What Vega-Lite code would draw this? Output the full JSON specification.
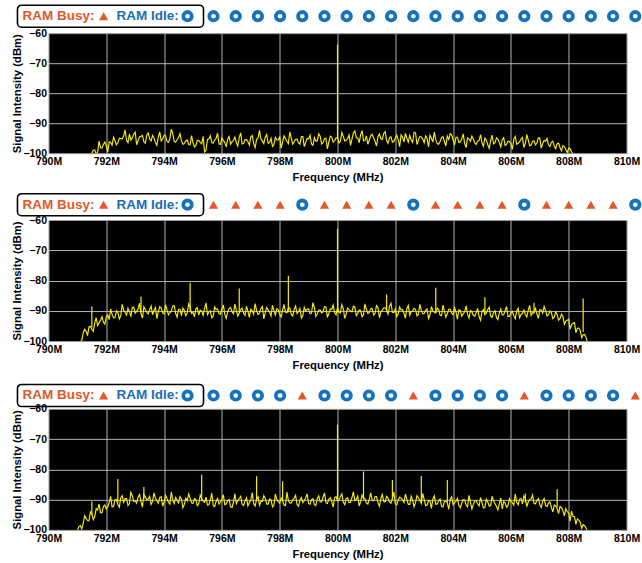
{
"$schema": "https://vega.github.io/schema/vega-lite/v6.json",
"background": "white",
"padding": {"left": 10.5, "top": 4.2, "right": 0, "bottom": 0},
"config": {
  "view": {"stroke": null},
  "font": "Liberation Sans",
  "text": {"font": "Liberation Sans"},
  "axis": {"labelFont": "Liberation Sans", "labelFontWeight": "bold", "labelFontSize": 10.5, "labelColor": "black", "titleFont": "Liberation Sans", "titleFontWeight": "bold", "titleFontSize": 11.3, "titleColor": "black", "ticks": false, "tickSize": 0, "domain": false, "gridColor": "#b4b4b4", "gridWidth": 1, "labelFlush": false, "labelOverlap": false}
},
"datasets": {
"r1": [{"slot":1,"state":"idle"},{"slot":2,"state":"idle"},{"slot":3,"state":"idle"},{"slot":4,"state":"idle"},{"slot":5,"state":"idle"},{"slot":6,"state":"idle"},{"slot":7,"state":"idle"},{"slot":8,"state":"idle"},{"slot":9,"state":"idle"},{"slot":10,"state":"idle"},{"slot":11,"state":"idle"},{"slot":12,"state":"idle"},{"slot":13,"state":"idle"},{"slot":14,"state":"idle"},{"slot":15,"state":"idle"},{"slot":16,"state":"idle"},{"slot":17,"state":"idle"},{"slot":18,"state":"idle"},{"slot":19,"state":"idle"},{"slot":20,"state":"idle"}],
"r2": [{"slot":1,"state":"busy"},{"slot":2,"state":"busy"},{"slot":3,"state":"busy"},{"slot":4,"state":"busy"},{"slot":5,"state":"idle"},{"slot":6,"state":"busy"},{"slot":7,"state":"busy"},{"slot":8,"state":"busy"},{"slot":9,"state":"busy"},{"slot":10,"state":"idle"},{"slot":11,"state":"busy"},{"slot":12,"state":"busy"},{"slot":13,"state":"busy"},{"slot":14,"state":"busy"},{"slot":15,"state":"idle"},{"slot":16,"state":"busy"},{"slot":17,"state":"busy"},{"slot":18,"state":"busy"},{"slot":19,"state":"busy"},{"slot":20,"state":"idle"}],
"r3": [{"slot":1,"state":"idle"},{"slot":2,"state":"idle"},{"slot":3,"state":"idle"},{"slot":4,"state":"idle"},{"slot":5,"state":"busy"},{"slot":6,"state":"idle"},{"slot":7,"state":"idle"},{"slot":8,"state":"idle"},{"slot":9,"state":"idle"},{"slot":10,"state":"busy"},{"slot":11,"state":"idle"},{"slot":12,"state":"idle"},{"slot":13,"state":"idle"},{"slot":14,"state":"idle"},{"slot":15,"state":"busy"},{"slot":16,"state":"idle"},{"slot":17,"state":"idle"},{"slot":18,"state":"idle"},{"slot":19,"state":"idle"},{"slot":20,"state":"busy"}],
"s1": [{"f":800.0,"v":-63.8,"base":-95.0}],
"s2": [{"f":791.5,"v":-88.6,"base":-95.5},{"f":793.2,"v":-85.3,"base":-90.5},{"f":794.9,"v":-80.8,"base":-90.5},{"f":796.6,"v":-82.6,"base":-90.5},{"f":798.3,"v":-78.4,"base":-90.5},{"f":800.0,"v":-63.0,"base":-90.5},{"f":801.7,"v":-84.6,"base":-90.5},{"f":803.4,"v":-82.4,"base":-90.5},{"f":805.1,"v":-85.5,"base":-91.0},{"f":806.8,"v":-87.3,"base":-91.0},{"f":808.5,"v":-85.9,"base":-97.0}],
"s3": [{"f":791.5,"v":-90.6,"base":-95.0},{"f":792.4,"v":-83.2,"base":-91.0},{"f":793.3,"v":-85.8,"base":-90.0},{"f":795.3,"v":-81.8,"base":-90.5},{"f":797.2,"v":-82.3,"base":-90.5},{"f":798.1,"v":-83.9,"base":-90.5},{"f":800.0,"v":-65.3,"base":-90.0},{"f":800.9,"v":-80.7,"base":-90.0},{"f":801.9,"v":-83.5,"base":-90.0},{"f":802.9,"v":-82.2,"base":-90.5},{"f":803.8,"v":-83.5,"base":-91.0},{"f":806.5,"v":-88.0,"base":-91.0},{"f":807.6,"v":-86.6,"base":-92.5}],
"t1": [{"f":791.5,"v":-100.0},{"f":791.6,"v":-98.9},{"f":791.7,"v":-99.6},{"f":791.8,"v":-98.2},{"f":791.9,"v":-97.1},{"f":792.0,"v":-97.6},{"f":792.1,"v":-96.2},{"f":792.2,"v":-97.3},{"f":792.3,"v":-95.8},{"f":792.4,"v":-96.6},{"f":792.5,"v":-95.1},{"f":792.6,"v":-94.2},{"f":792.7,"v":-95.6},{"f":792.8,"v":-93.6},{"f":792.9,"v":-94.9},{"f":793.0,"v":-93.0},{"f":793.1,"v":-95.8},{"f":793.2,"v":-94.4},{"f":793.3,"v":-96.2},{"f":793.4,"v":-93.9},{"f":793.5,"v":-95.3},{"f":793.6,"v":-94.1},{"f":793.7,"v":-96.4},{"f":793.8,"v":-94.6},{"f":793.9,"v":-95.9},{"f":794.0,"v":-94.0},{"f":794.1,"v":-96.1},{"f":794.2,"v":-95.2},{"f":794.3,"v":-93.5},{"f":794.4,"v":-96.3},{"f":794.5,"v":-94.8},{"f":794.6,"v":-95.9},{"f":794.7,"v":-96.8},{"f":794.8,"v":-95.6},{"f":794.9,"v":-97.2},{"f":795.0,"v":-96.5},{"f":795.1,"v":-97.4},{"f":795.2,"v":-95.8},{"f":795.3,"v":-96.9},{"f":795.4,"v":-99.6},{"f":795.5,"v":-95.4},{"f":795.6,"v":-94.2},{"f":795.7,"v":-96.6},{"f":795.8,"v":-95.1},{"f":795.9,"v":-96.9},{"f":796.0,"v":-94.9},{"f":796.1,"v":-96.4},{"f":796.2,"v":-95.3},{"f":796.3,"v":-97.0},{"f":796.4,"v":-95.7},{"f":796.5,"v":-96.5},{"f":796.6,"v":-94.8},{"f":796.7,"v":-96.9},{"f":796.8,"v":-95.5},{"f":796.9,"v":-96.2},{"f":797.0,"v":-94.6},{"f":797.1,"v":-96.8},{"f":797.2,"v":-95.4},{"f":797.3,"v":-92.4},{"f":797.4,"v":-95.9},{"f":797.5,"v":-94.7},{"f":797.6,"v":-96.7},{"f":797.7,"v":-95.0},{"f":797.8,"v":-97.1},{"f":797.9,"v":-95.6},{"f":798.0,"v":-94.4},{"f":798.1,"v":-96.3},{"f":798.2,"v":-95.1},{"f":798.3,"v":-96.8},{"f":798.4,"v":-94.9},{"f":798.5,"v":-96.1},{"f":798.6,"v":-95.3},{"f":798.7,"v":-97.0},{"f":798.8,"v":-94.5},{"f":798.9,"v":-96.4},{"f":799.0,"v":-95.2},{"f":799.1,"v":-96.9},{"f":799.2,"v":-94.8},{"f":799.3,"v":-95.9},{"f":799.4,"v":-94.3},{"f":799.5,"v":-96.5},{"f":799.6,"v":-95.0},{"f":799.7,"v":-96.2},{"f":799.8,"v":-94.6},{"f":799.9,"v":-95.8},{"f":800.0,"v":-94.9},{"f":800.1,"v":-96.0},{"f":800.2,"v":-94.4},{"f":800.3,"v":-95.7},{"f":800.4,"v":-93.9},{"f":800.5,"v":-95.3},{"f":800.6,"v":-92.6},{"f":800.7,"v":-95.0},{"f":800.8,"v":-93.8},{"f":800.9,"v":-95.9},{"f":801.0,"v":-94.2},{"f":801.1,"v":-95.6},{"f":801.2,"v":-93.7},{"f":801.3,"v":-96.1},{"f":801.4,"v":-94.5},{"f":801.5,"v":-95.2},{"f":801.6,"v":-93.4},{"f":801.7,"v":-95.8},{"f":801.8,"v":-94.7},{"f":801.9,"v":-96.3},{"f":802.0,"v":-94.9},{"f":802.1,"v":-95.5},{"f":802.2,"v":-93.9},{"f":802.3,"v":-96.2},{"f":802.4,"v":-95.0},{"f":802.5,"v":-94.1},{"f":802.6,"v":-96.4},{"f":802.7,"v":-93.2},{"f":802.8,"v":-95.7},{"f":802.9,"v":-94.6},{"f":803.0,"v":-96.5},{"f":803.1,"v":-95.1},{"f":803.2,"v":-94.0},{"f":803.3,"v":-96.3},{"f":803.4,"v":-95.4},{"f":803.5,"v":-97.0},{"f":803.6,"v":-94.8},{"f":803.7,"v":-96.1},{"f":803.8,"v":-94.3},{"f":803.9,"v":-93.5},{"f":804.0,"v":-95.6},{"f":804.1,"v":-94.7},{"f":804.2,"v":-96.4},{"f":804.3,"v":-95.2},{"f":804.4,"v":-96.8},{"f":804.5,"v":-94.9},{"f":804.6,"v":-96.0},{"f":804.7,"v":-95.3},{"f":804.8,"v":-97.1},{"f":804.9,"v":-95.8},{"f":805.0,"v":-96.6},{"f":805.1,"v":-95.0},{"f":805.2,"v":-97.2},{"f":805.3,"v":-95.7},{"f":805.4,"v":-96.9},{"f":805.5,"v":-94.9},{"f":805.6,"v":-96.4},{"f":805.7,"v":-95.5},{"f":805.8,"v":-97.4},{"f":805.9,"v":-96.0},{"f":806.0,"v":-96.8},{"f":806.1,"v":-95.3},{"f":806.2,"v":-97.0},{"f":806.3,"v":-96.2},{"f":806.4,"v":-94.8},{"f":806.5,"v":-96.7},{"f":806.6,"v":-95.6},{"f":806.7,"v":-97.3},{"f":806.8,"v":-95.9},{"f":806.9,"v":-96.6},{"f":807.0,"v":-94.9},{"f":807.1,"v":-96.8},{"f":807.2,"v":-96.0},{"f":807.3,"v":-97.2},{"f":807.4,"v":-96.4},{"f":807.5,"v":-97.6},{"f":807.6,"v":-96.8},{"f":807.7,"v":-98.1},{"f":807.8,"v":-97.5},{"f":807.9,"v":-98.8},{"f":808.0,"v":-98.3},{"f":808.1,"v":-99.5},{"f":808.2,"v":-100.0},
{"f":791.55,"v":-99.0},{"f":791.65,"v":-100.3},{"f":791.75,"v":-96.0},{"f":791.85,"v":-98.3},{"f":791.95,"v":-96.3},{"f":792.05,"v":-99.6},{"f":792.15,"v":-96.4},{"f":792.25,"v":-94.7},{"f":792.35,"v":-97.2},{"f":792.45,"v":-95.0},{"f":792.55,"v":-95.3},{"f":792.65,"v":-92.2},{"f":792.75,"v":-96.5},{"f":792.85,"v":-95.6},{"f":792.95,"v":-93.7},{"f":793.05,"v":-97.2},{"f":793.15,"v":-94.5},{"f":793.25,"v":-94.1},{"f":793.35,"v":-96.7},{"f":793.45,"v":-93.2},{"f":793.55,"v":-95.9},{"f":793.65,"v":-94.9},{"f":793.75,"v":-97.4},{"f":793.85,"v":-92.9},{"f":793.95,"v":-95.2},{"f":794.05,"v":-94.2},{"f":794.15,"v":-96.4},{"f":794.25,"v":-92.0},{"f":794.35,"v":-96.1},{"f":794.45,"v":-95.5},{"f":794.55,"v":-93.5},{"f":794.65,"v":-97.0},{"f":794.75,"v":-95.9},{"f":794.85,"v":-97.1},{"f":794.95,"v":-94.1},{"f":795.05,"v":-97.9},{"f":795.15,"v":-95.7},{"f":795.25,"v":-96.4},{"f":795.35,"v":-94.4},{"f":795.45,"v":-99.0},{"f":795.55,"v":-95.3},{"f":795.65,"v":-96.5},{"f":795.75,"v":-95.6},{"f":795.85,"v":-93.3},{"f":795.95,"v":-97.1},{"f":796.05,"v":-95.8},{"f":796.15,"v":-97.9},{"f":796.25,"v":-94.4},{"f":796.35,"v":-96.2},{"f":796.45,"v":-94.6},{"f":796.55,"v":-97.6},{"f":796.65,"v":-93.2},{"f":796.75,"v":-96.7},{"f":796.85,"v":-95.5},{"f":796.95,"v":-97.3},{"f":797.05,"v":-94.1},{"f":797.15,"v":-98.1},{"f":797.25,"v":-95.0},{"f":797.35,"v":-95.3},{"f":797.45,"v":-96.8},{"f":797.55,"v":-93.8},{"f":797.65,"v":-96.4},{"f":797.75,"v":-97.7},{"f":797.85,"v":-94.7},{"f":797.95,"v":-95.6},{"f":798.05,"v":-98.3},{"f":798.15,"v":-94.2},{"f":798.25,"v":-96.1},{"f":798.35,"v":-92.9},{"f":798.45,"v":-97.0},{"f":798.55,"v":-95.4},{"f":798.65,"v":-96.6},{"f":798.75,"v":-94.5},{"f":798.85,"v":-97.8},{"f":798.95,"v":-95.1},{"f":799.05,"v":-94.0},{"f":799.15,"v":-97.4},{"f":799.25,"v":-96.0},{"f":799.35,"v":-93.5},{"f":799.45,"v":-96.9},{"f":799.55,"v":-95.2},{"f":799.65,"v":-98.6},{"f":799.75,"v":-94.3},{"f":799.85,"v":-96.3},{"f":799.95,"v":-94.9},{"f":800.05,"v":-96.6},{"f":800.15,"v":-93.1},{"f":800.25,"v":-95.9},{"f":800.35,"v":-95.1},{"f":800.45,"v":-97.4},{"f":800.55,"v":-93.3},{"f":800.65,"v":-94.8},{"f":800.75,"v":-96.5},{"f":800.85,"v":-92.5},{"f":800.95,"v":-95.8},{"f":801.05,"v":-97.0},{"f":801.15,"v":-94.2},{"f":801.25,"v":-94.9},{"f":801.35,"v":-97.6},{"f":801.45,"v":-93.6},{"f":801.55,"v":-95.4},{"f":801.65,"v":-92.8},{"f":801.75,"v":-96.7},{"f":801.85,"v":-94.5},{"f":801.95,"v":-96.1},{"f":802.05,"v":-94.0},{"f":802.15,"v":-97.8},{"f":802.25,"v":-94.7},{"f":802.35,"v":-93.4},{"f":802.45,"v":-96.3},{"f":802.55,"v":-95.6},{"f":802.65,"v":-93.0},{"f":802.75,"v":-97.1},{"f":802.85,"v":-94.4},{"f":802.95,"v":-95.3},{"f":803.05,"v":-94.2},{"f":803.15,"v":-97.9},{"f":803.25,"v":-95.0},{"f":803.35,"v":-93.0},{"f":803.45,"v":-96.8},{"f":803.55,"v":-96.1},{"f":803.65,"v":-94.5},{"f":803.75,"v":-97.6},{"f":803.85,"v":-95.4},{"f":803.95,"v":-93.9},{"f":804.05,"v":-97.3},{"f":804.15,"v":-94.7},{"f":804.25,"v":-96.2},{"f":804.35,"v":-93.6},{"f":804.45,"v":-98.1},{"f":804.55,"v":-95.2},{"f":804.65,"v":-94.3},{"f":804.75,"v":-96.6},{"f":804.85,"v":-95.9},{"f":804.95,"v":-93.8},{"f":805.05,"v":-97.7},{"f":805.15,"v":-95.6},{"f":805.25,"v":-98.4},{"f":805.35,"v":-94.0},{"f":805.45,"v":-96.5},{"f":805.55,"v":-95.4},{"f":805.65,"v":-97.9},{"f":805.75,"v":-94.8},{"f":805.85,"v":-97.0},{"f":805.95,"v":-96.2},{"f":806.05,"v":-98.7},{"f":806.15,"v":-94.4},{"f":806.25,"v":-96.7},{"f":806.35,"v":-95.3},{"f":806.45,"v":-98.1},{"f":806.55,"v":-93.8},{"f":806.65,"v":-97.5},{"f":806.75,"v":-96.0},{"f":806.85,"v":-97.2},{"f":806.95,"v":-94.9},{"f":807.05,"v":-98.3},{"f":807.15,"v":-95.7},{"f":807.25,"v":-95.1},{"f":807.35,"v":-97.8},{"f":807.45,"v":-96.0},{"f":807.55,"v":-98.5},{"f":807.65,"v":-96.6},{"f":807.75,"v":-99.2},{"f":807.85,"v":-97.8},{"f":807.95,"v":-99.8},{"f":808.05,"v":-98.5},{"f":808.15,"v":-100.3}],
"t2": [{"f":791.1,"v":-100.2},{"f":791.2,"v":-97.4},{"f":791.3,"v":-96.8},{"f":791.4,"v":-95.3},{"f":791.5,"v":-96.1},{"f":791.6,"v":-94.0},{"f":791.7,"v":-94.9},{"f":791.8,"v":-93.1},{"f":791.9,"v":-93.8},{"f":792.0,"v":-92.0},{"f":792.1,"v":-92.9},{"f":792.2,"v":-91.2},{"f":792.3,"v":-92.3},{"f":792.4,"v":-90.6},{"f":792.5,"v":-91.7},{"f":792.6,"v":-89.8},{"f":792.7,"v":-91.4},{"f":792.8,"v":-90.2},{"f":792.9,"v":-88.9},{"f":793.0,"v":-90.8},{"f":793.1,"v":-89.4},{"f":793.2,"v":-90.9},{"f":793.3,"v":-88.7},{"f":793.4,"v":-90.5},{"f":793.5,"v":-89.6},{"f":793.6,"v":-91.3},{"f":793.7,"v":-88.9},{"f":793.8,"v":-90.2},{"f":793.9,"v":-89.1},{"f":794.0,"v":-91.0},{"f":794.1,"v":-89.7},{"f":794.2,"v":-90.6},{"f":794.3,"v":-88.4},{"f":794.4,"v":-90.9},{"f":794.5,"v":-89.5},{"f":794.6,"v":-91.6},{"f":794.7,"v":-89.9},{"f":794.8,"v":-90.7},{"f":794.9,"v":-88.8},{"f":795.0,"v":-90.5},{"f":795.1,"v":-89.3},{"f":795.2,"v":-91.4},{"f":795.3,"v":-90.1},{"f":795.4,"v":-89.2},{"f":795.5,"v":-91.3},{"f":795.6,"v":-90.0},{"f":795.7,"v":-91.8},{"f":795.8,"v":-89.6},{"f":795.9,"v":-90.9},{"f":796.0,"v":-89.4},{"f":796.1,"v":-91.2},{"f":796.2,"v":-90.3},{"f":796.3,"v":-88.9},{"f":796.4,"v":-91.0},{"f":796.5,"v":-89.8},{"f":796.6,"v":-90.7},{"f":796.7,"v":-89.1},{"f":796.8,"v":-91.5},{"f":796.9,"v":-90.2},{"f":797.0,"v":-89.5},{"f":797.1,"v":-91.1},{"f":797.2,"v":-89.9},{"f":797.3,"v":-90.8},{"f":797.4,"v":-88.6},{"f":797.5,"v":-90.6},{"f":797.6,"v":-89.7},{"f":797.7,"v":-91.7},{"f":797.8,"v":-90.0},{"f":797.9,"v":-89.3},{"f":798.0,"v":-91.2},{"f":798.1,"v":-89.8},{"f":798.2,"v":-90.5},{"f":798.3,"v":-89.0},{"f":798.4,"v":-91.1},{"f":798.5,"v":-89.6},{"f":798.6,"v":-90.9},{"f":798.7,"v":-89.2},{"f":798.8,"v":-91.6},{"f":798.9,"v":-90.1},{"f":799.0,"v":-89.4},{"f":799.1,"v":-90.8},{"f":799.2,"v":-88.9},{"f":799.3,"v":-91.0},{"f":799.4,"v":-89.7},{"f":799.5,"v":-90.4},{"f":799.6,"v":-88.7},{"f":799.7,"v":-90.9},{"f":799.8,"v":-89.5},{"f":799.9,"v":-90.6},{"f":800.0,"v":-89.0},{"f":800.1,"v":-90.7},{"f":800.2,"v":-89.3},{"f":800.3,"v":-91.2},{"f":800.4,"v":-89.6},{"f":800.5,"v":-90.3},{"f":800.6,"v":-88.8},{"f":800.7,"v":-90.8},{"f":800.8,"v":-89.9},{"f":800.9,"v":-91.3},{"f":801.0,"v":-89.5},{"f":801.1,"v":-90.6},{"f":801.2,"v":-89.2},{"f":801.3,"v":-90.9},{"f":801.4,"v":-88.9},{"f":801.5,"v":-90.4},{"f":801.6,"v":-89.0},{"f":801.7,"v":-89.8},{"f":801.8,"v":-88.5},{"f":801.9,"v":-90.5},{"f":802.0,"v":-89.4},{"f":802.1,"v":-91.1},{"f":802.2,"v":-89.7},{"f":802.3,"v":-90.8},{"f":802.4,"v":-89.3},{"f":802.5,"v":-91.5},{"f":802.6,"v":-90.1},{"f":802.7,"v":-89.5},{"f":802.8,"v":-91.2},{"f":802.9,"v":-89.8},{"f":803.0,"v":-90.9},{"f":803.1,"v":-89.4},{"f":803.2,"v":-91.4},{"f":803.3,"v":-90.0},{"f":803.4,"v":-90.7},{"f":803.5,"v":-89.6},{"f":803.6,"v":-91.6},{"f":803.7,"v":-90.2},{"f":803.8,"v":-91.0},{"f":803.9,"v":-89.5},{"f":804.0,"v":-91.3},{"f":804.1,"v":-90.4},{"f":804.2,"v":-89.7},{"f":804.3,"v":-91.8},{"f":804.4,"v":-90.3},{"f":804.5,"v":-91.1},{"f":804.6,"v":-89.9},{"f":804.7,"v":-91.5},{"f":804.8,"v":-90.6},{"f":804.9,"v":-92.0},{"f":805.0,"v":-90.2},{"f":805.1,"v":-91.3},{"f":805.2,"v":-89.6},{"f":805.3,"v":-91.7},{"f":805.4,"v":-90.5},{"f":805.5,"v":-92.2},{"f":805.6,"v":-90.8},{"f":805.7,"v":-91.4},{"f":805.8,"v":-89.9},{"f":805.9,"v":-91.9},{"f":806.0,"v":-90.7},{"f":806.1,"v":-91.6},{"f":806.2,"v":-90.1},{"f":806.3,"v":-92.3},{"f":806.4,"v":-90.9},{"f":806.5,"v":-91.2},{"f":806.6,"v":-89.8},{"f":806.7,"v":-91.5},{"f":806.8,"v":-90.4},{"f":806.9,"v":-91.0},{"f":807.0,"v":-89.6},{"f":807.1,"v":-90.8},{"f":807.2,"v":-89.9},{"f":807.3,"v":-91.3},{"f":807.4,"v":-90.6},{"f":807.5,"v":-92.1},{"f":807.6,"v":-91.2},{"f":807.7,"v":-92.6},{"f":807.8,"v":-91.9},{"f":807.9,"v":-93.4},{"f":808.0,"v":-92.8},{"f":808.1,"v":-94.5},{"f":808.2,"v":-93.9},{"f":808.3,"v":-95.8},{"f":808.4,"v":-96.6},{"f":808.5,"v":-97.9},{"f":808.6,"v":-98.8},{"f":808.7,"v":-100.2},
{"f":791.15,"v":-99.8},{"f":791.25,"v":-96.1},{"f":791.35,"v":-98.2},{"f":791.45,"v":-95.2},{"f":791.55,"v":-96.8},{"f":791.65,"v":-92.3},{"f":791.75,"v":-94.0},{"f":791.85,"v":-91.9},{"f":791.95,"v":-94.4},{"f":792.05,"v":-91.4},{"f":792.15,"v":-89.4},{"f":792.25,"v":-92.3},{"f":792.35,"v":-90.0},{"f":792.45,"v":-92.7},{"f":792.55,"v":-87.9},{"f":792.65,"v":-90.5},{"f":792.75,"v":-89.2},{"f":792.85,"v":-91.9},{"f":792.95,"v":-88.8},{"f":793.05,"v":-90.2},{"f":793.15,"v":-87.5},{"f":793.25,"v":-92.4},{"f":793.35,"v":-89.6},{"f":793.45,"v":-91.0},{"f":793.55,"v":-88.4},{"f":793.65,"v":-89.9},{"f":793.75,"v":-92.6},{"f":793.85,"v":-88.6},{"f":793.95,"v":-90.7},{"f":794.05,"v":-88.0},{"f":794.15,"v":-91.3},{"f":794.25,"v":-90.1},{"f":794.35,"v":-88.3},{"f":794.45,"v":-92.1},{"f":794.55,"v":-89.5},{"f":794.65,"v":-89.1},{"f":794.75,"v":-91.6},{"f":794.85,"v":-87.7},{"f":794.95,"v":-90.9},{"f":795.05,"v":-92.0},{"f":795.15,"v":-89.0},{"f":795.25,"v":-89.8},{"f":795.35,"v":-91.5},{"f":795.45,"v":-87.4},{"f":795.55,"v":-90.4},{"f":795.65,"v":-92.3},{"f":795.75,"v":-88.7},{"f":795.85,"v":-89.4},{"f":795.95,"v":-91.1},{"f":796.05,"v":-88.1},{"f":796.15,"v":-92.5},{"f":796.25,"v":-89.3},{"f":796.35,"v":-90.3},{"f":796.45,"v":-87.8},{"f":796.55,"v":-91.8},{"f":796.65,"v":-89.6},{"f":796.75,"v":-90.8},{"f":796.85,"v":-88.5},{"f":796.95,"v":-92.2},{"f":797.05,"v":-90.0},{"f":797.15,"v":-87.6},{"f":797.25,"v":-91.2},{"f":797.35,"v":-89.2},{"f":797.45,"v":-92.7},{"f":797.55,"v":-88.9},{"f":797.65,"v":-90.5},{"f":797.75,"v":-88.2},{"f":797.85,"v":-91.4},{"f":797.95,"v":-89.7},{"f":798.05,"v":-92.0},{"f":798.15,"v":-87.9},{"f":798.25,"v":-90.6},{"f":798.35,"v":-89.1},{"f":798.45,"v":-91.7},{"f":798.55,"v":-88.4},{"f":798.65,"v":-90.2},{"f":798.75,"v":-92.4},{"f":798.85,"v":-88.8},{"f":798.95,"v":-89.5},{"f":799.05,"v":-91.0},{"f":799.15,"v":-87.3},{"f":799.25,"v":-91.9},{"f":799.35,"v":-89.8},{"f":799.45,"v":-90.7},{"f":799.55,"v":-88.6},{"f":799.65,"v":-92.2},{"f":799.75,"v":-89.4},{"f":799.85,"v":-88.1},{"f":799.95,"v":-91.3},{"f":800.05,"v":-90.4},{"f":800.15,"v":-88.0},{"f":800.25,"v":-92.5},{"f":800.35,"v":-89.1},{"f":800.45,"v":-90.1},{"f":800.55,"v":-88.5},{"f":800.65,"v":-91.6},{"f":800.75,"v":-89.7},{"f":800.85,"v":-92.0},{"f":800.95,"v":-87.7},{"f":801.05,"v":-90.9},{"f":801.15,"v":-89.3},{"f":801.25,"v":-91.4},{"f":801.35,"v":-88.3},{"f":801.45,"v":-92.3},{"f":801.55,"v":-89.9},{"f":801.65,"v":-89.0},{"f":801.75,"v":-91.1},{"f":801.85,"v":-87.5},{"f":801.95,"v":-90.6},{"f":802.05,"v":-91.9},{"f":802.15,"v":-88.7},{"f":802.25,"v":-89.6},{"f":802.35,"v":-92.4},{"f":802.45,"v":-88.2},{"f":802.55,"v":-90.3},{"f":802.65,"v":-89.2},{"f":802.75,"v":-91.7},{"f":802.85,"v":-87.9},{"f":802.95,"v":-91.0},{"f":803.05,"v":-89.8},{"f":803.15,"v":-92.6},{"f":803.25,"v":-88.6},{"f":803.35,"v":-90.5},{"f":803.45,"v":-89.1},{"f":803.55,"v":-91.5},{"f":803.65,"v":-88.1},{"f":803.75,"v":-92.1},{"f":803.85,"v":-89.5},{"f":803.95,"v":-90.8},{"f":804.05,"v":-89.0},{"f":804.15,"v":-92.8},{"f":804.25,"v":-89.9},{"f":804.35,"v":-91.0},{"f":804.45,"v":-88.4},{"f":804.55,"v":-92.4},{"f":804.65,"v":-90.3},{"f":804.75,"v":-91.8},{"f":804.85,"v":-89.2},{"f":804.95,"v":-93.1},{"f":805.05,"v":-89.6},{"f":805.15,"v":-90.7},{"f":805.25,"v":-88.8},{"f":805.35,"v":-92.2},{"f":805.45,"v":-90.0},{"f":805.55,"v":-92.9},{"f":805.65,"v":-89.4},{"f":805.75,"v":-91.3},{"f":805.85,"v":-88.6},{"f":805.95,"v":-91.9},{"f":806.05,"v":-90.2},{"f":806.15,"v":-92.6},{"f":806.25,"v":-89.1},{"f":806.35,"v":-91.2},{"f":806.45,"v":-89.7},{"f":806.55,"v":-92.0},{"f":806.65,"v":-88.2},{"f":806.75,"v":-90.6},{"f":806.85,"v":-89.2},{"f":806.95,"v":-92.5},{"f":807.05,"v":-89.7},{"f":807.15,"v":-88.6},{"f":807.25,"v":-91.7},{"f":807.35,"v":-90.1},{"f":807.45,"v":-92.6},{"f":807.55,"v":-90.3},{"f":807.65,"v":-93.1},{"f":807.75,"v":-91.1},{"f":807.85,"v":-94.5},{"f":807.95,"v":-93.1},{"f":808.05,"v":-96.1},{"f":808.15,"v":-94.1},{"f":808.25,"v":-97.2},{"f":808.35,"v":-95.7},{"f":808.45,"v":-98.9},{"f":808.55,"v":-97.8},{"f":808.65,"v":-100.3}],
"t3": [{"f":791.0,"v":-100.3},{"f":791.1,"v":-98.6},{"f":791.2,"v":-97.9},{"f":791.3,"v":-96.2},{"f":791.4,"v":-97.0},{"f":791.5,"v":-94.8},{"f":791.6,"v":-95.6},{"f":791.7,"v":-93.4},{"f":791.8,"v":-94.3},{"f":791.9,"v":-92.2},{"f":792.0,"v":-93.1},{"f":792.1,"v":-91.0},{"f":792.2,"v":-92.4},{"f":792.3,"v":-90.1},{"f":792.4,"v":-91.6},{"f":792.5,"v":-89.4},{"f":792.6,"v":-90.9},{"f":792.7,"v":-89.7},{"f":792.8,"v":-91.3},{"f":792.9,"v":-88.8},{"f":793.0,"v":-90.4},{"f":793.1,"v":-89.2},{"f":793.2,"v":-90.7},{"f":793.3,"v":-88.3},{"f":793.4,"v":-90.0},{"f":793.5,"v":-88.9},{"f":793.6,"v":-90.6},{"f":793.7,"v":-89.5},{"f":793.8,"v":-91.2},{"f":793.9,"v":-89.1},{"f":794.0,"v":-90.8},{"f":794.1,"v":-89.6},{"f":794.2,"v":-91.5},{"f":794.3,"v":-90.2},{"f":794.4,"v":-89.3},{"f":794.5,"v":-91.1},{"f":794.6,"v":-89.8},{"f":794.7,"v":-91.6},{"f":794.8,"v":-90.4},{"f":794.9,"v":-89.5},{"f":795.0,"v":-91.3},{"f":795.1,"v":-90.0},{"f":795.2,"v":-91.4},{"f":795.3,"v":-89.7},{"f":795.4,"v":-90.9},{"f":795.5,"v":-91.8},{"f":795.6,"v":-90.1},{"f":795.7,"v":-92.0},{"f":795.8,"v":-90.6},{"f":795.9,"v":-91.5},{"f":796.0,"v":-89.9},{"f":796.1,"v":-91.7},{"f":796.2,"v":-90.3},{"f":796.3,"v":-92.4},{"f":796.4,"v":-90.8},{"f":796.5,"v":-91.3},{"f":796.6,"v":-89.7},{"f":796.7,"v":-91.6},{"f":796.8,"v":-90.5},{"f":796.9,"v":-92.1},{"f":797.0,"v":-90.2},{"f":797.1,"v":-91.4},{"f":797.2,"v":-89.8},{"f":797.3,"v":-91.9},{"f":797.4,"v":-90.6},{"f":797.5,"v":-89.6},{"f":797.6,"v":-91.5},{"f":797.7,"v":-90.1},{"f":797.8,"v":-91.8},{"f":797.9,"v":-89.9},{"f":798.0,"v":-91.2},{"f":798.1,"v":-90.4},{"f":798.2,"v":-92.0},{"f":798.3,"v":-90.3},{"f":798.4,"v":-91.1},{"f":798.5,"v":-89.5},{"f":798.6,"v":-91.6},{"f":798.7,"v":-90.2},{"f":798.8,"v":-91.0},{"f":798.9,"v":-89.4},{"f":799.0,"v":-91.3},{"f":799.1,"v":-90.0},{"f":799.2,"v":-91.7},{"f":799.3,"v":-89.7},{"f":799.4,"v":-90.8},{"f":799.5,"v":-89.2},{"f":799.6,"v":-91.1},{"f":799.7,"v":-89.9},{"f":799.8,"v":-90.6},{"f":799.9,"v":-89.3},{"f":800.0,"v":-90.5},{"f":800.1,"v":-89.1},{"f":800.2,"v":-90.9},{"f":800.3,"v":-89.6},{"f":800.4,"v":-91.0},{"f":800.5,"v":-89.4},{"f":800.6,"v":-90.3},{"f":800.7,"v":-88.8},{"f":800.8,"v":-90.7},{"f":800.9,"v":-89.5},{"f":801.0,"v":-91.2},{"f":801.1,"v":-89.8},{"f":801.2,"v":-90.4},{"f":801.3,"v":-89.0},{"f":801.4,"v":-91.1},{"f":801.5,"v":-89.7},{"f":801.6,"v":-90.6},{"f":801.7,"v":-88.9},{"f":801.8,"v":-90.8},{"f":801.9,"v":-89.6},{"f":802.0,"v":-91.4},{"f":802.1,"v":-90.1},{"f":802.2,"v":-89.5},{"f":802.3,"v":-91.0},{"f":802.4,"v":-89.9},{"f":802.5,"v":-91.6},{"f":802.6,"v":-90.2},{"f":802.7,"v":-90.9},{"f":802.8,"v":-89.4},{"f":802.9,"v":-91.3},{"f":803.0,"v":-90.0},{"f":803.1,"v":-91.8},{"f":803.2,"v":-90.5},{"f":803.3,"v":-89.8},{"f":803.4,"v":-91.5},{"f":803.5,"v":-90.3},{"f":803.6,"v":-92.2},{"f":803.7,"v":-90.7},{"f":803.8,"v":-91.1},{"f":803.9,"v":-89.9},{"f":804.0,"v":-91.7},{"f":804.1,"v":-90.6},{"f":804.2,"v":-92.0},{"f":804.3,"v":-91.2},{"f":804.4,"v":-90.1},{"f":804.5,"v":-92.4},{"f":804.6,"v":-90.9},{"f":804.7,"v":-91.6},{"f":804.8,"v":-90.4},{"f":804.9,"v":-92.1},{"f":805.0,"v":-91.0},{"f":805.1,"v":-92.6},{"f":805.2,"v":-90.8},{"f":805.3,"v":-91.9},{"f":805.4,"v":-90.5},{"f":805.5,"v":-92.3},{"f":805.6,"v":-91.3},{"f":805.7,"v":-93.1},{"f":805.8,"v":-91.1},{"f":805.9,"v":-92.0},{"f":806.0,"v":-90.7},{"f":806.1,"v":-91.8},{"f":806.2,"v":-90.9},{"f":806.3,"v":-89.9},{"f":806.4,"v":-91.4},{"f":806.5,"v":-89.6},{"f":806.6,"v":-90.8},{"f":806.7,"v":-89.8},{"f":806.8,"v":-91.3},{"f":806.9,"v":-90.2},{"f":807.0,"v":-91.6},{"f":807.1,"v":-90.5},{"f":807.2,"v":-91.9},{"f":807.3,"v":-91.1},{"f":807.4,"v":-92.5},{"f":807.5,"v":-91.8},{"f":807.6,"v":-92.9},{"f":807.7,"v":-92.3},{"f":807.8,"v":-93.6},{"f":807.9,"v":-93.0},{"f":808.0,"v":-94.4},{"f":808.1,"v":-93.8},{"f":808.2,"v":-95.6},{"f":808.3,"v":-96.4},{"f":808.4,"v":-97.5},{"f":808.5,"v":-98.3},{"f":808.6,"v":-99.4},{"f":808.7,"v":-100.3},
{"f":791.05,"v":-98.9},{"f":791.15,"v":-99.7},{"f":791.25,"v":-95.3},{"f":791.35,"v":-96.9},{"f":791.45,"v":-94.1},{"f":791.55,"v":-96.6},{"f":791.65,"v":-93.0},{"f":791.75,"v":-91.5},{"f":791.85,"v":-94.3},{"f":791.95,"v":-91.8},{"f":792.05,"v":-92.4},{"f":792.15,"v":-88.9},{"f":792.25,"v":-92.2},{"f":792.35,"v":-89.9},{"f":792.45,"v":-92.5},{"f":792.55,"v":-88.7},{"f":792.65,"v":-89.7},{"f":792.75,"v":-91.9},{"f":792.85,"v":-87.6},{"f":792.95,"v":-90.6},{"f":793.05,"v":-91.2},{"f":793.15,"v":-88.3},{"f":793.25,"v":-92.5},{"f":793.35,"v":-89.1},{"f":793.45,"v":-89.9},{"f":793.55,"v":-91.6},{"f":793.65,"v":-87.8},{"f":793.75,"v":-90.4},{"f":793.85,"v":-89.3},{"f":793.95,"v":-92.2},{"f":794.05,"v":-88.6},{"f":794.15,"v":-90.9},{"f":794.25,"v":-87.4},{"f":794.35,"v":-91.3},{"f":794.45,"v":-90.2},{"f":794.55,"v":-89.0},{"f":794.65,"v":-92.7},{"f":794.75,"v":-89.5},{"f":794.85,"v":-88.1},{"f":794.95,"v":-91.1},{"f":795.05,"v":-89.7},{"f":795.15,"v":-92.0},{"f":795.25,"v":-88.5},{"f":795.35,"v":-90.5},{"f":795.45,"v":-89.2},{"f":795.55,"v":-91.7},{"f":795.65,"v":-87.9},{"f":795.75,"v":-92.3},{"f":795.85,"v":-89.6},{"f":795.95,"v":-90.8},{"f":796.05,"v":-88.4},{"f":796.15,"v":-91.4},{"f":796.25,"v":-90.0},{"f":796.35,"v":-92.6},{"f":796.45,"v":-88.0},{"f":796.55,"v":-90.3},{"f":796.65,"v":-88.9},{"f":796.75,"v":-91.9},{"f":796.85,"v":-89.4},{"f":796.95,"v":-91.0},{"f":797.05,"v":-87.7},{"f":797.15,"v":-92.1},{"f":797.25,"v":-89.1},{"f":797.35,"v":-90.6},{"f":797.45,"v":-88.7},{"f":797.55,"v":-91.5},{"f":797.65,"v":-89.8},{"f":797.75,"v":-92.4},{"f":797.85,"v":-88.2},{"f":797.95,"v":-90.7},{"f":798.05,"v":-89.5},{"f":798.15,"v":-91.8},{"f":798.25,"v":-87.5},{"f":798.35,"v":-91.2},{"f":798.45,"v":-90.1},{"f":798.55,"v":-88.6},{"f":798.65,"v":-92.2},{"f":798.75,"v":-89.3},{"f":798.85,"v":-90.4},{"f":798.95,"v":-88.1},{"f":799.05,"v":-91.6},{"f":799.15,"v":-89.7},{"f":799.25,"v":-92.0},{"f":799.35,"v":-88.8},{"f":799.45,"v":-90.8},{"f":799.55,"v":-87.8},{"f":799.65,"v":-91.3},{"f":799.75,"v":-89.4},{"f":799.85,"v":-92.5},{"f":799.95,"v":-89.0},{"f":800.05,"v":-90.3},{"f":800.15,"v":-88.1},{"f":800.25,"v":-91.7},{"f":800.35,"v":-89.4},{"f":800.45,"v":-90.9},{"f":800.55,"v":-87.4},{"f":800.65,"v":-90.0},{"f":800.75,"v":-92.1},{"f":800.85,"v":-88.5},{"f":800.95,"v":-89.7},{"f":801.05,"v":-91.5},{"f":801.15,"v":-87.8},{"f":801.25,"v":-90.4},{"f":801.35,"v":-89.0},{"f":801.45,"v":-92.2},{"f":801.55,"v":-88.3},{"f":801.65,"v":-90.7},{"f":801.75,"v":-89.6},{"f":801.85,"v":-91.2},{"f":801.95,"v":-87.5},{"f":802.05,"v":-91.8},{"f":802.15,"v":-89.2},{"f":802.25,"v":-90.1},{"f":802.35,"v":-88.2},{"f":802.45,"v":-91.6},{"f":802.55,"v":-88.9},{"f":802.65,"v":-92.4},{"f":802.75,"v":-88.7},{"f":802.85,"v":-90.2},{"f":802.95,"v":-88.0},{"f":803.05,"v":-92.0},{"f":803.15,"v":-90.3},{"f":803.25,"v":-92.9},{"f":803.35,"v":-88.8},{"f":803.45,"v":-91.5},{"f":803.55,"v":-89.8},{"f":803.65,"v":-92.4},{"f":803.75,"v":-90.5},{"f":803.85,"v":-93.2},{"f":803.95,"v":-89.1},{"f":804.05,"v":-91.0},{"f":804.15,"v":-89.6},{"f":804.25,"v":-92.7},{"f":804.35,"v":-90.0},{"f":804.45,"v":-91.8},{"f":804.55,"v":-88.6},{"f":804.65,"v":-93.1},{"f":804.75,"v":-90.4},{"f":804.85,"v":-91.4},{"f":804.95,"v":-89.3},{"f":805.05,"v":-92.8},{"f":805.15,"v":-89.9},{"f":805.25,"v":-92.2},{"f":805.35,"v":-88.9},{"f":805.45,"v":-91.3},{"f":805.55,"v":-93.4},{"f":805.65,"v":-89.5},{"f":805.75,"v":-90.6},{"f":805.85,"v":-92.5},{"f":805.95,"v":-89.7},{"f":806.05,"v":-91.0},{"f":806.15,"v":-88.2},{"f":806.25,"v":-91.7},{"f":806.35,"v":-89.6},{"f":806.45,"v":-88.8},{"f":806.55,"v":-92.3},{"f":806.65,"v":-89.9},{"f":806.75,"v":-88.5},{"f":806.85,"v":-91.4},{"f":806.95,"v":-89.7},{"f":807.05,"v":-92.6},{"f":807.15,"v":-89.6},{"f":807.25,"v":-92.3},{"f":807.35,"v":-90.8},{"f":807.45,"v":-94.1},{"f":807.55,"v":-92.1},{"f":807.65,"v":-94.6},{"f":807.75,"v":-92.6},{"f":807.85,"v":-95.4},{"f":807.95,"v":-94.0},{"f":808.05,"v":-97.1},{"f":808.15,"v":-95.6},{"f":808.25,"v":-98.2},{"f":808.35,"v":-96.8},{"f":808.45,"v":-99.5},{"f":808.55,"v":-98.6},{"f":808.65,"v":-100.5}]
},
"spacing": 8.5,
"vconcat": [
{"spacing": -1, "vconcat": [
 {"width": 578, "height": 22, "layer": [
  {"data": {"values": [{}]}, "mark": {"type": "point", "opacity": 0}, "encoding": {"y": {"datum": 0, "type": "quantitative", "scale": {"domain": [-1, 1]}, "axis": {"values": [0], "labelExpr": "'       '", "title": " ", "labelOpacity": 0, "titleOpacity": 0, "grid": false, "labelPadding": 2, "titlePadding": 0}}}},
  {"data": {"values": [{}]}, "mark": {"type": "rect", "fill": null, "stroke": "black", "strokeWidth": 1.6, "cornerRadius": 4}, "encoding": {"x": {"datum": -7.83, "type": "quantitative", "scale": {"domain": [-6.432, 19.604], "nice": false, "zero": false}, "axis": null}, "x2": {"datum": 0.55}}},
  {"data": {"values": [{"t": "RAM Busy:"}]}, "mark": {"type": "text", "align": "left", "color": "#e0592b", "fontSize": 13.5, "fontWeight": "bold"}, "encoding": {"text": {"field": "t"}, "x": {"datum": -7.6, "type": "quantitative", "axis": null}}},
  {"data": {"values": [{"t": "RAM Idle:"}]}, "mark": {"type": "text", "align": "left", "color": "#1b6db8", "fontSize": 13.5, "fontWeight": "bold"}, "encoding": {"text": {"field": "t"}, "x": {"datum": -3.37, "type": "quantitative", "axis": null}}},
  {"data": {"values": [{"state": "busy"}]}, "mark": {"type": "point", "shape": "triangle-up", "filled": true, "color": "#e4572a", "size": 85, "opacity": 1}, "encoding": {"x": {"datum": -3.95, "type": "quantitative", "axis": null}}},
  {"data": {"values": [{"state": "idle"}]}, "mark": {"type": "point", "shape": "circle", "filled": false, "color": "#1572bd", "size": 71, "strokeWidth": 3.8, "opacity": 1}, "encoding": {"x": {"datum": -0.17, "type": "quantitative", "axis": null}}},
  {"data": {"name": "r1"}, "transform": [{"filter": "datum.state == 'busy'"}], "mark": {"type": "point", "shape": "triangle-up", "filled": true, "color": "#e4572a", "size": 85, "opacity": 1}, "encoding": {"x": {"field": "slot", "type": "quantitative", "axis": null}}},
  {"data": {"name": "r1"}, "transform": [{"filter": "datum.state == 'idle'"}], "mark": {"type": "point", "shape": "circle", "filled": false, "color": "#1572bd", "size": 71, "strokeWidth": 3.8, "opacity": 1}, "encoding": {"x": {"field": "slot", "type": "quantitative", "axis": null}}}
 ]},
 {"width": 578, "height": 120, "view": {"fill": "black", "stroke": "#9a9a9a"},
  "encoding": {
    "x": {"field": "f", "type": "quantitative", "scale": {"domain": [790, 810], "nice": false, "zero": false}, "axis": {"values": [790,792,794,796,798,800,802,804,806,808,810], "labelExpr": "datum.value + 'M'", "title": "Frequency (MHz)", "grid": true, "gridOpacity": {"condition": {"test": "datum.value == 790 || datum.value == 810", "value": 0}, "value": 1}, "labelPadding": 3.5, "titlePadding": 4.5}},
    "y": {"field": "v", "type": "quantitative", "scale": {"domain": [-100, -60], "nice": false, "zero": false}, "axis": {"values": [-100,-90,-80,-70,-60], "title": "Signal Intensity (dBm)", "grid": true, "gridOpacity": {"condition": {"test": "datum.value == -60 || datum.value == -100", "value": 0}, "value": 1}, "labelPadding": 2, "titlePadding": 0}}},
  "layer": [
  {"data": {"name": "t1"}, "mark": {"type": "line", "color": "#f9ee00", "strokeWidth": 1.15, "clip": true}, "encoding": {"order": {"field": "f", "type": "quantitative"}}},
  {"data": {"name": "s1"}, "mark": {"type": "rule", "color": "#f9ee00", "strokeWidth": 1.2, "clip": true}, "encoding": {"y2": {"field": "base"}}},
  {"data": {"values": [{"t": "Memory Has No Activities"}]}, "mark": {"type": "text", "align": "left", "baseline": "alphabetic", "color": "#f9ee00", "fontSize": 14, "fontWeight": "bold"}, "encoding": {"text": {"field": "t"}, "x": {"datum": 790.28, "type": "quantitative"}, "y": {"datum": -66.8, "type": "quantitative"}}}
 ]}
]},
{"spacing": 11.8, "vconcat": [
{"spacing": -2.65, "vconcat": [
 {"width": 578, "height": 22, "layer": [
  {"data": {"values": [{}]}, "mark": {"type": "point", "opacity": 0}, "encoding": {"y": {"datum": 0, "type": "quantitative", "scale": {"domain": [-1, 1]}, "axis": {"values": [0], "labelExpr": "'       '", "title": " ", "labelOpacity": 0, "titleOpacity": 0, "grid": false, "labelPadding": 2, "titlePadding": 0}}}},
  {"data": {"values": [{}]}, "mark": {"type": "rect", "fill": null, "stroke": "black", "strokeWidth": 1.6, "cornerRadius": 4}, "encoding": {"x": {"datum": -7.83, "type": "quantitative", "scale": {"domain": [-6.432, 19.604], "nice": false, "zero": false}, "axis": null}, "x2": {"datum": 0.55}}},
  {"data": {"values": [{"t": "RAM Busy:"}]}, "mark": {"type": "text", "align": "left", "color": "#e0592b", "fontSize": 13.5, "fontWeight": "bold"}, "encoding": {"text": {"field": "t"}, "x": {"datum": -7.6, "type": "quantitative", "axis": null}}},
  {"data": {"values": [{"t": "RAM Idle:"}]}, "mark": {"type": "text", "align": "left", "color": "#1b6db8", "fontSize": 13.5, "fontWeight": "bold"}, "encoding": {"text": {"field": "t"}, "x": {"datum": -3.37, "type": "quantitative", "axis": null}}},
  {"data": {"values": [{"state": "busy"}]}, "mark": {"type": "point", "shape": "triangle-up", "filled": true, "color": "#e4572a", "size": 85, "opacity": 1}, "encoding": {"x": {"datum": -3.95, "type": "quantitative", "axis": null}}},
  {"data": {"values": [{"state": "idle"}]}, "mark": {"type": "point", "shape": "circle", "filled": false, "color": "#1572bd", "size": 71, "strokeWidth": 3.8, "opacity": 1}, "encoding": {"x": {"datum": -0.17, "type": "quantitative", "axis": null}}},
  {"data": {"name": "r2"}, "transform": [{"filter": "datum.state == 'busy'"}], "mark": {"type": "point", "shape": "triangle-up", "filled": true, "color": "#e4572a", "size": 85, "opacity": 1}, "encoding": {"x": {"field": "slot", "type": "quantitative", "axis": null}}},
  {"data": {"name": "r2"}, "transform": [{"filter": "datum.state == 'idle'"}], "mark": {"type": "point", "shape": "circle", "filled": false, "color": "#1572bd", "size": 71, "strokeWidth": 3.8, "opacity": 1}, "encoding": {"x": {"field": "slot", "type": "quantitative", "axis": null}}}
 ]},
 {"width": 578, "height": 121, "view": {"fill": "black", "stroke": "#9a9a9a"},
  "encoding": {
    "x": {"field": "f", "type": "quantitative", "scale": {"domain": [790, 810], "nice": false, "zero": false}, "axis": {"values": [790,792,794,796,798,800,802,804,806,808,810], "labelExpr": "datum.value + 'M'", "title": "Frequency (MHz)", "grid": true, "gridOpacity": {"condition": {"test": "datum.value == 790 || datum.value == 810", "value": 0}, "value": 1}, "labelPadding": 3.5, "titlePadding": 4.5}},
    "y": {"field": "v", "type": "quantitative", "scale": {"domain": [-100, -60], "nice": false, "zero": false}, "axis": {"values": [-100,-90,-80,-70,-60], "title": "Signal Intensity (dBm)", "grid": true, "gridOpacity": {"condition": {"test": "datum.value == -60 || datum.value == -100", "value": 0}, "value": 1}, "labelPadding": 2, "titlePadding": 0}}},
  "layer": [
  {"data": {"name": "t2"}, "mark": {"type": "line", "color": "#f9ee00", "strokeWidth": 1.15, "clip": true}, "encoding": {"order": {"field": "f", "type": "quantitative"}}},
  {"data": {"name": "s2"}, "mark": {"type": "rule", "color": "#f9ee00", "strokeWidth": 1.2, "clip": true}, "encoding": {"y2": {"field": "base"}}},
  {"data": {"values": [{"t": "Memory Writing with High Frequency"}]}, "mark": {"type": "text", "align": "left", "baseline": "alphabetic", "color": "#f9ee00", "fontSize": 14, "fontWeight": "bold"}, "encoding": {"text": {"field": "t"}, "x": {"datum": 790.28, "type": "quantitative"}, "y": {"datum": -67.7, "type": "quantitative"}}}
 ]}
]},
{"spacing": -4.65, "vconcat": [
 {"width": 578, "height": 22, "layer": [
  {"data": {"values": [{}]}, "mark": {"type": "point", "opacity": 0}, "encoding": {"y": {"datum": 0, "type": "quantitative", "scale": {"domain": [-1, 1]}, "axis": {"values": [0], "labelExpr": "'       '", "title": " ", "labelOpacity": 0, "titleOpacity": 0, "grid": false, "labelPadding": 2, "titlePadding": 0}}}},
  {"data": {"values": [{}]}, "mark": {"type": "rect", "fill": null, "stroke": "black", "strokeWidth": 1.6, "cornerRadius": 4}, "encoding": {"x": {"datum": -7.83, "type": "quantitative", "scale": {"domain": [-6.432, 19.604], "nice": false, "zero": false}, "axis": null}, "x2": {"datum": 0.55}}},
  {"data": {"values": [{"t": "RAM Busy:"}]}, "mark": {"type": "text", "align": "left", "color": "#e0592b", "fontSize": 13.5, "fontWeight": "bold"}, "encoding": {"text": {"field": "t"}, "x": {"datum": -7.6, "type": "quantitative", "axis": null}}},
  {"data": {"values": [{"t": "RAM Idle:"}]}, "mark": {"type": "text", "align": "left", "color": "#1b6db8", "fontSize": 13.5, "fontWeight": "bold"}, "encoding": {"text": {"field": "t"}, "x": {"datum": -3.37, "type": "quantitative", "axis": null}}},
  {"data": {"values": [{"state": "busy"}]}, "mark": {"type": "point", "shape": "triangle-up", "filled": true, "color": "#e4572a", "size": 85, "opacity": 1}, "encoding": {"x": {"datum": -3.95, "type": "quantitative", "axis": null}}},
  {"data": {"values": [{"state": "idle"}]}, "mark": {"type": "point", "shape": "circle", "filled": false, "color": "#1572bd", "size": 71, "strokeWidth": 3.8, "opacity": 1}, "encoding": {"x": {"datum": -0.17, "type": "quantitative", "axis": null}}},
  {"data": {"name": "r3"}, "transform": [{"filter": "datum.state == 'busy'"}], "mark": {"type": "point", "shape": "triangle-up", "filled": true, "color": "#e4572a", "size": 85, "opacity": 1}, "encoding": {"x": {"field": "slot", "type": "quantitative", "axis": null}}},
  {"data": {"name": "r3"}, "transform": [{"filter": "datum.state == 'idle'"}], "mark": {"type": "point", "shape": "circle", "filled": false, "color": "#1572bd", "size": 71, "strokeWidth": 3.8, "opacity": 1}, "encoding": {"x": {"field": "slot", "type": "quantitative", "axis": null}}}
 ]},
 {"width": 578, "height": 121, "view": {"fill": "black", "stroke": "#9a9a9a"},
  "encoding": {
    "x": {"field": "f", "type": "quantitative", "scale": {"domain": [790, 810], "nice": false, "zero": false}, "axis": {"values": [790,792,794,796,798,800,802,804,806,808,810], "labelExpr": "datum.value + 'M'", "title": "Frequency (MHz)", "grid": true, "gridOpacity": {"condition": {"test": "datum.value == 790 || datum.value == 810", "value": 0}, "value": 1}, "labelPadding": 3.5, "titlePadding": 4.5}},
    "y": {"field": "v", "type": "quantitative", "scale": {"domain": [-100, -60], "nice": false, "zero": false}, "axis": {"values": [-100,-90,-80,-70,-60], "title": "Signal Intensity (dBm)", "grid": true, "gridOpacity": {"condition": {"test": "datum.value == -60 || datum.value == -100", "value": 0}, "value": 1}, "labelPadding": 2, "titlePadding": 0}}},
  "layer": [
  {"data": {"name": "t3"}, "mark": {"type": "line", "color": "#f9ee00", "strokeWidth": 1.15, "clip": true}, "encoding": {"order": {"field": "f", "type": "quantitative"}}},
  {"data": {"name": "s3"}, "mark": {"type": "rule", "color": "#f9ee00", "strokeWidth": 1.2, "clip": true}, "encoding": {"y2": {"field": "base"}}},
  {"data": {"values": [{"t": "Memory Writing with Low Frequency"}]}, "mark": {"type": "text", "align": "left", "baseline": "alphabetic", "color": "#f9ee00", "fontSize": 14, "fontWeight": "bold"}, "encoding": {"text": {"field": "t"}, "x": {"datum": 790.28, "type": "quantitative"}, "y": {"datum": -67.6, "type": "quantitative"}}}
 ]}
]}
]}
]
}
